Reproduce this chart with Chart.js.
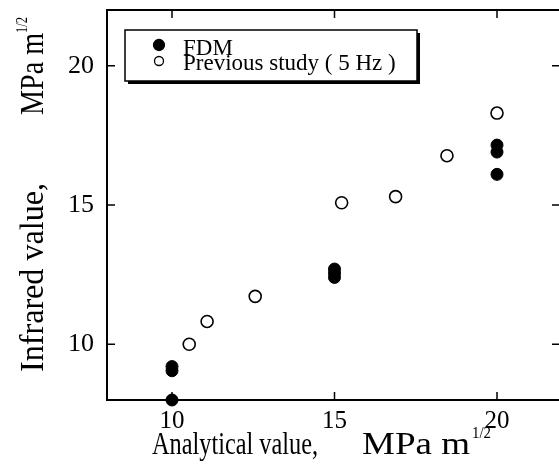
<!DOCTYPE html>
<html>
<head>
<meta charset="utf-8">
<script src="https://cdn.jsdelivr.net/npm/chart.js@4/dist/chart.umd.min.js"></script>
<style>
  html, body { margin: 0; padding: 0; background: #fff; overflow: hidden; }
  #wrap { width: 559px; height: 473px; overflow: hidden; }
</style>
</head>
<body>
<div id="wrap"><canvas id="chart" width="563" height="473"></canvas></div>
<script>
// values
const fdmX = [10, 10, 10, 15, 15, 15, 20, 20, 20];
const fdmY = [8.0, 9.05, 9.2, 12.4, 12.55, 12.7, 16.1, 16.9, 17.15];
const prevX = [10.53, 11.08, 12.56, 15.22, 16.88, 18.46, 20.0];
const prevY = [10.0, 10.82, 11.72, 15.08, 15.3, 16.77, 18.3];

const analyticalTicks = [10, 15, 20];
const infraredTicks = [10, 15, 20];
const legendLabels = ['FDM', 'Previous study ( 5 Hz )'];

const serif = '"Liberation Serif", "Times New Roman", serif';

const toPoints = (xs, ys) => xs.map((x, i) => ({ x, y: ys[i] }));

// draw text squeezed/stretched to a given length
const fitText = (ctx, text, x, y, len, size, rotate) => {
  ctx.save();
  ctx.translate(x, y);
  if (rotate) ctx.rotate(-Math.PI / 2);
  ctx.font = `${size}px ${serif}`;
  const w = ctx.measureText(text).width;
  ctx.scale(len / w, 1);
  ctx.textAlign = 'left';
  ctx.textBaseline = 'alphabetic';
  ctx.fillStyle = '#000';
  ctx.fillText(text, 0, 0);
  ctx.restore();
};

const framePlugin = {
  id: 'frame',
  afterDatasetsDraw(chart) {
    const { ctx, chartArea: a, scales } = chart;
    ctx.save();
    ctx.strokeStyle = '#000';
    ctx.lineWidth = 2;
    ctx.strokeRect(a.left, a.top, a.right - a.left, a.bottom - a.top);

    // inward ticks on all four sides
    ctx.lineWidth = 1.5;
    const tl = 8;
    ctx.beginPath();
    analyticalTicks.forEach(v => {
      const px = scales.x.getPixelForValue(v);
      ctx.moveTo(px, a.bottom); ctx.lineTo(px, a.bottom - tl);
      ctx.moveTo(px, a.top); ctx.lineTo(px, a.top + tl);
    });
    infraredTicks.forEach(v => {
      const py = scales.y.getPixelForValue(v);
      ctx.moveTo(a.left, py); ctx.lineTo(a.left + tl, py);
      ctx.moveTo(a.right, py); ctx.lineTo(a.right - tl - 2, py);
    });
    ctx.stroke();

    // legend box
    const bx = 125, by = 30, bw = 292, bh = 51;
    ctx.fillStyle = '#fff';
    ctx.fillRect(bx, by, bw, bh);
    ctx.fillStyle = '#000';
    ctx.fillRect(bx + 3, by + bh, bw, 3);
    ctx.fillRect(bx + bw, by + 3, 3, bh);
    ctx.lineWidth = 1.5;
    ctx.strokeRect(bx, by, bw, bh);

    const ds = chart.data.datasets;
    const rows = [{ cy: 45, base: 55 }, { cy: 61, base: 70 }];
    rows.forEach((r, i) => {
      ctx.beginPath();
      ctx.arc(159, r.cy, i === 0 ? 5.5 : 4.5, 0, Math.PI * 2);
      ctx.fillStyle = ds[i].backgroundColor;
      ctx.fill();
      ctx.lineWidth = 1.3;
      ctx.strokeStyle = '#000';
      ctx.stroke();
      ctx.fillStyle = '#000';
      ctx.font = `23px ${serif}`;
      ctx.textBaseline = 'alphabetic';
      ctx.fillText(legendLabels[i], 183, r.base);
    });

    // axis titles
    fitText(ctx, 'Analytical value,', 152, 454, 166, 31, false);
    fitText(ctx, 'MPa m', 362, 454, 108, 31, false);
    fitText(ctx, '1/2', 472, 438, 19, 17, false);

    fitText(ctx, 'Infrared value,', 43, 372, 189, 33, true);
    fitText(ctx, 'MPa m', 43, 115, 82, 33, true);
    fitText(ctx, '1/2', 27, 33, 16, 17, true);
    ctx.restore();
  }
};

const noPad = s => { s.paddingTop = 0; s.paddingBottom = 0; s.paddingLeft = 0; s.paddingRight = 0; };

const config = {
  type: 'scatter',
  data: {
    datasets: [
      {
        label: legendLabels[0],
        data: toPoints(fdmX, fdmY),
        backgroundColor: '#000',
        borderColor: '#000',
        borderWidth: 1,
        pointRadius: 6,
        clip: false,
      },
      {
        label: legendLabels[1],
        data: toPoints(prevX, prevY),
        backgroundColor: '#fff',
        borderColor: '#000',
        borderWidth: 1.6,
        pointRadius: 6,
        clip: false,
      }
    ]
  },
  options: {
    responsive: false,
    animation: false,
    events: [],
    layout: { autoPadding: false, padding: { top: 10, right: 1, left: 0, bottom: 0 } },
    plugins: { legend: { display: false }, tooltip: { enabled: false } },
    scales: {
      x: {
        type: 'linear',
        min: 8,
        max: 22,
        grid: { display: false, drawTicks: false },
        border: { display: false },
        afterBuildTicks: s => { s.ticks = analyticalTicks.map(value => ({ value })); },
        afterFit: s => { s.height = 73; noPad(s); },
        ticks: {
          color: '#000',
          padding: 6,
          maxRotation: 0,
          font: { family: serif, size: 25 }
        }
      },
      y: {
        type: 'linear',
        min: 8,
        max: 22,
        grid: { display: false, drawTicks: false },
        border: { display: false },
        afterBuildTicks: s => { s.ticks = infraredTicks.map(value => ({ value })); },
        afterFit: s => { s.width = 107; noPad(s); },
        ticks: {
          color: '#000',
          padding: 13,
          font: { family: serif, size: 26 }
        }
      }
    }
  },
  plugins: [framePlugin]
};

new Chart(document.getElementById('chart'), config);
</script>
</body>
</html>
